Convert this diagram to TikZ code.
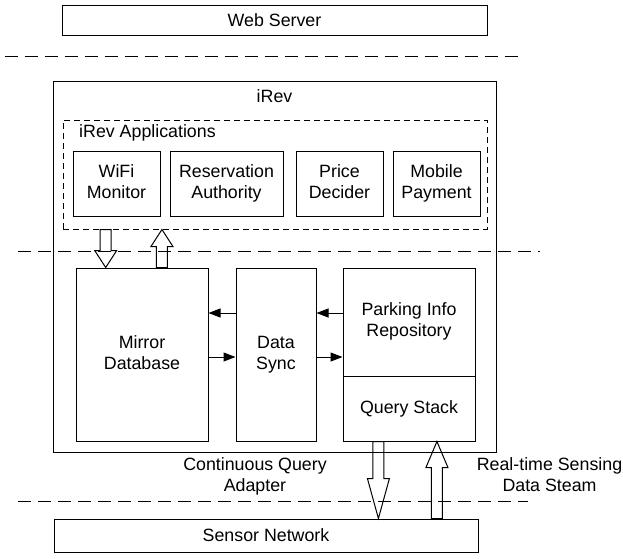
\documentclass[tikz,border=0pt]{standalone}
\usepackage{fontspec}
\setmainfont{Liberation Sans}
\usetikzlibrary{arrows.meta, calc}
\tikzset{>={Triangle[length=12pt,width=9pt]}}
\tikzset{
  block/.style={draw, line width=1pt, inner sep=0pt, align=center},
  sepline/.style={line width=1pt, dash pattern=on 13pt off 7pt},
  flow/.style={->, line width=1pt},
  fat/.style={line width=1pt, line join=miter},
}
% two struts so every two-line label sits the same way
\newcommand{\twolines}[2]{#1\strut\\#2\strut}
% hollow block arrow: start, tip, head length
\newcommand{\fatarrow}[3]{%
  \coordinate (fathead) at ($(#2)!#3!(#1)$);
  \draw[fat] ($(#1)!5.5pt!90:(#2)$) -- ($(fathead)!5.5pt!90:(#2)$)
    -- ($(fathead)!11pt!90:(#2)$) -- (#2) -- ($(fathead)!11pt!-90:(#2)$)
    -- ($(fathead)!5.5pt!-90:(#2)$) -- ($(#1)!5.5pt!-90:(#2)$) -- cycle;}

\begin{document}
\begin{tikzpicture}[x=1pt, y=-1pt, font=\fontsize{17.8}{21}\selectfont]
  \useasboundingbox (0,0) rectangle (623,558);

  \node[block, minimum width=425, minimum height=30] (web) at (274.5,20) {Web Server};

  % iRev and its applications
  \node[block, minimum width=443, minimum height=371] (irev) at (274.5,266.5) {};
  \node (irevname) at ($(irev.north)+(0,16)$) {iRev};
  \node[block, dash pattern=on 6pt off 4pt, minimum width=424, minimum height=109] (apps) at (275,174.5) {};
  \node[anchor=west, inner sep=0pt] (appsname) at (79,133) {iRev Applications};
  \node[block, minimum width=87, minimum height=65] (wifi) at (116.5,183.5) {\twolines{WiFi}{Monitor}};
  \node[block, minimum width=113, minimum height=65] (reserve) at (226.5,183.5) {\twolines{Reservation}{Authority}};
  \node[block, minimum width=87, minimum height=65] (price) at (339.5,183.5) {\twolines{Price}{Decider}};
  \node[block, minimum width=87, minimum height=65] (payment) at (436.5,183.5) {\twolines{Mobile}{Payment}};

  \node[block, minimum width=132, minimum height=173] (mirror) at (142,354.5) {\twolines{Mirror}{Database}};
  \node[block, minimum width=80, minimum height=173] (sync) at (276,354.5) {\twolines{Data}{Sync}};
  \node[block, minimum width=132, minimum height=108] (parking) at (409,322) {\twolines{Parking Info}{Repository}};
  \node[block, minimum width=132, minimum height=65] (query) at (409,408.5) {Query Stack};

  \node[block, minimum width=424, minimum height=33] (sensor) at (266,535.5) {Sensor Network};

  % sync arrows
  \coordinate (upper) at (0,313);
  \coordinate (lower) at (0,357);
  \draw[flow] (sync.west |- upper) -- (mirror.east |- upper);
  \draw[flow] (mirror.east |- lower) -- (sync.west |- lower);
  \draw[flow] (parking.west |- upper) -- (sync.east |- upper);
  \draw[flow] (sync.east |- lower) -- (parking.west |- lower);

  % apps <-> mirror
  \coordinate (mdown) at ($(mirror.north west)!0.227!(mirror.north east)$);
  \coordinate (mdownstart) at (apps.south -| mdown);
  \coordinate (mup) at ($(mirror.north west)!0.65!(mirror.north east)$);
  \coordinate (mupend) at (apps.south -| mup);
  \fatarrow{mdownstart}{mdown}{17pt}
  \fatarrow{mup}{mupend}{17pt}

  % query stack <-> sensors
  \coordinate (qdown) at ($(query.south west)!0.27!(query.south east)$);
  \coordinate (qdownend) at (sensor.north -| qdown);
  \coordinate (qup) at ($(query.south west)!0.71!(query.south east)$);
  \coordinate (qupstart) at (sensor.north -| qup);
  \fatarrow{qdown}{qdownend}{40pt}
  \fatarrow{qupstart}{qup}{26pt}

  \node[align=center] (adapter) at (255,476.5) {\twolines{Continuous Query}{Adapter}};
  \node[align=center] (stream) at (549.5,476.5) {\twolines{Real-time Sensing}{Data Steam}};

  % tier separators
  \draw[sepline] (5,56) -- (518,56);
  \draw[sepline] (18,251) -- (540,251);
  \draw[sepline] (18,501) -- (528,501);
\end{tikzpicture}
\end{document}
